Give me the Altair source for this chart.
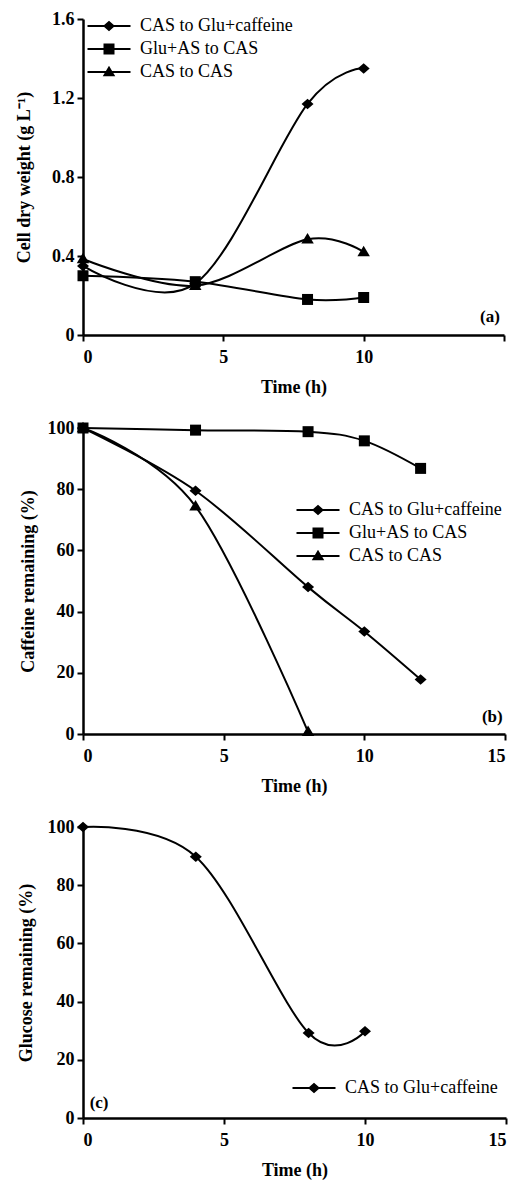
import altair as alt
import pandas as pd

# ---------------- data ----------------
series_names = ["CAS to Glu+caffeine", "Glu+AS to CAS", "CAS to CAS"]

# panel (a): cell dry weight (g/L)
time_a = [0, 4, 8, 10]
a_cas_glu = [0.35, 0.26, 1.17, 1.35]
a_gluas_cas = [0.30, 0.27, 0.18, 0.19]
a_cas_cas = [0.385, 0.25, 0.485, 0.42]

# panel (b): caffeine remaining (%)
time_b_long = [0, 4, 8, 10, 12]
b_cas_glu = [100, 79.5, 48, 33.5, 17.8]
b_gluas_cas = [100, 99.3, 98.8, 95.8, 86.8]
time_b_short = [0, 4, 8]
b_cas_cas = [100, 74.4, 0.7]

# panel (c): glucose remaining (%)
time_c = [0, 4, 8, 10]
c_cas_glu = [100, 89.8, 29.2, 29.8]

x_ticks = [0, 5, 10, 15]
a_y_ticks = [0, 0.4, 0.8, 1.2, 1.6]
pct_ticks = [0, 20, 40, 60, 80, 100]

panel_tags = ["(a)", "(b)", "(c)"]
tag_x = [14.5, 14.55, 0.57]
tag_y = [0.09, 5.6, 5.1]

# ---------------- marker shapes (unit paths) ----------------
marker_paths = [
    "M-1.2,0L0,-1.05L1.2,0L0,1.05Z",                 # diamond
    "M-1.1,-1.1L1.1,-1.1L1.1,1.1L-1.1,1.1Z",         # square
    "M-1.25,0.85L0,-1.25L1.25,0.85Z",                # triangle
]
line_seg = "M-4.3,-0.22L4.3,-0.22L4.3,0.22L-4.3,0.22Z"
legend_paths = [line_seg + p for p in marker_paths]

FONT = "Liberation Serif"


def long_df(times_list, values_list, names):
    rows = []
    for times, vals, name in zip(times_list, values_list, names):
        for t, v in zip(times, vals):
            rows.append({"t": t, "v": v, "series": name})
    return pd.DataFrame(rows)


def panel(df, names, y_title, y_domain, y_ticks, y_fmt, width, height,
          legend_x, legend_y, tag_idx, title_pad, hide15=False):
    shape_idx = [series_names.index(n) for n in names]
    m_range = [marker_paths[i] for i in shape_idx]
    l_range = [legend_paths[i] for i in shape_idx]

    x_axis = alt.Axis(values=x_ticks, title="Time (h)", grid=False,
                      labelExpr="datum.value == 15 ? '' : datum.label" if hide15 else "datum.label")
    x = alt.X("t:Q", scale=alt.Scale(domain=[0, 15], nice=False, zero=False), axis=x_axis)
    y = alt.Y("v:Q", scale=alt.Scale(domain=y_domain, nice=False),
              axis=alt.Axis(values=y_ticks, format=y_fmt, title=y_title, grid=False,
                            titlePadding=title_pad))

    base = alt.Chart(df)
    lines = base.mark_line(interpolate="cardinal", color="black", strokeWidth=2).encode(
        x=x, y=y, detail="series:N")
    points = base.mark_point(filled=True, color="black", size=100, opacity=1).encode(
        x=x, y=y,
        shape=alt.Shape("series:N", scale=alt.Scale(domain=names, range=m_range), legend=None))
    legend_layer = base.mark_point(filled=True, color="black", size=100, opacity=1).encode(
        x=x, y=y,
        shape=alt.Shape("series:N", scale=alt.Scale(domain=names, range=l_range),
                        legend=alt.Legend(title=None, orient="none", legendX=legend_x,
                                          legendY=legend_y, symbolSize=100,
                                          symbolFillColor="black", symbolStrokeWidth=0,
                                          labelFont=FONT, labelFontSize=18,
                                          labelFontWeight="normal", labelColor="black",
                                          labelOffset=22, padding=0, rowPadding=5,
                                          labelLimit=300))
    ).transform_filter("datum.t < 0")

    tag_df = pd.DataFrame({"t": [tag_x[tag_idx]], "v": [tag_y[tag_idx]],
                           "tag": [panel_tags[tag_idx]]})
    tag = alt.Chart(tag_df).mark_text(font=FONT, fontSize=17, fontWeight="bold",
                                      color="black").encode(x=x, y=y, text="tag:N")

    return alt.layer(lines, points, legend_layer, tag).resolve_scale(
        shape="independent").properties(width=width, height=height)


df_a = long_df([time_a, time_a, time_a], [a_cas_glu, a_gluas_cas, a_cas_cas], series_names)
df_b = long_df([time_b_long, time_b_long, time_b_short],
               [b_cas_glu, b_gluas_cas, b_cas_cas], series_names)
df_c = long_df([time_c], [c_cas_glu], [series_names[0]])

pa = panel(df_a, series_names, "Cell dry weight (g L\u207b\u00b9)", [0, 1.6], a_y_ticks, "~g",
           421, 316, 17, -2, 0, 18, hide15=True)
pb = panel(df_b, series_names, "Caffeine remaining (%)", [0, 100], pct_ticks, "d",
           422, 306, 226, 73, 1, 10)
pc = panel(df_c, [series_names[0]], "Glucose remaining (%)", [0, 100], pct_ticks, "d",
           423, 291, 222, 252, 2, 12)

chart = alt.vconcat(pa, pb, pc, spacing=93, bounds="flush").properties(
    padding={"left": 7, "top": 2, "right": 5, "bottom": 2}, background="white"
).configure_view(stroke=None).configure_axis(
    grid=False, domainColor="black", domainWidth=2.5, tickColor="black", tickWidth=2,
    tickSize=6, labelFont=FONT, labelFontSize=18, labelFontWeight="bold",
    labelColor="black", titleFont=FONT, titleFontSize=18, titleFontWeight="bold",
    titleColor="black", labelPadding=3
).configure_axisX(labelPadding=7, titlePadding=12)

chart.save("out.html", embed_options={"renderer": "svg", "actions": False})
